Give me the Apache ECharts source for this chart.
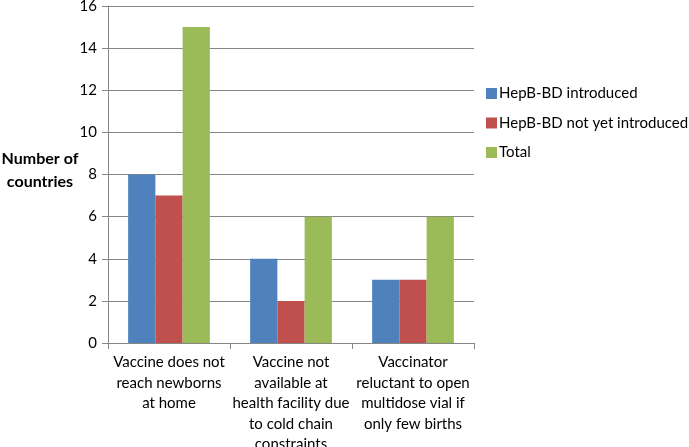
<!DOCTYPE html>
<html><head><meta charset="utf-8">
<script src="https://cdn.jsdelivr.net/npm/echarts@6/dist/echarts.min.js"></script>
<style>html,body{margin:0;padding:0;background:#fff}#c{width:689px;height:447px}</style>
</head><body><div id="c"></div>
<script>
const categories = ["Vaccine does not\nreach newborns\nat home", "Vaccine not\navailable at\nhealth facility due\nto cold chain\nconstraints", "Vaccinator\nreluctant to open\nmultidose vial if\nonly few births"];
const seriesNames = ["HepB-BD introduced", "HepB-BD not yet introduced", "Total"];
const introduced = [8, 4, 3];
const notYet = [7, 2, 3];
const total = [15, 6, 6];
const yTicks = [0, 2, 4, 6, 8, 10, 12, 14, 16];
const colors = ["#4F81BD", "#C0504D", "#9BBB59"];
const font = "Lato, 'Open Sans', sans-serif";

const chart = echarts.init(document.getElementById('c'));
chart.setOption({
  animation: false,
  textStyle: {fontFamily: font},
  grid: {left: 108, top: 6, width: 366, height: 337, containLabel: false, outerBoundsMode: 'none'},
  legend: {
    orient: 'vertical', left: 481, top: 81, itemGap: 14.5, padding: 5,
    itemWidth: 11, itemHeight: 11, icon: 'rect',
    textStyle: {fontSize: 15, color: '#000', fontFamily: font, padding: [0,0,0,-3]},
    data: seriesNames
  },
  graphic: [{
    type: 'text', x: 40, y: 147,
    style: {text: 'Number of\ncountries', font: 'bold 16px ' + font, fill: '#000', textAlign: 'center', lineHeight: 23}
  }],
  xAxis: {
    type: 'category', data: categories,
    axisLine: {lineStyle: {color: '#868686'}},
    axisTick: {show: true, length: 6, lineStyle: {color: '#868686'}},
    axisLabel: {color: '#000', fontSize: 15, lineHeight: 20.5, margin: 9, interval: 0, fontFamily: font}
  },
  yAxis: {
    type: 'value', min: yTicks[0], max: yTicks[yTicks.length-1], interval: 2,
    axisLine: {show: true, lineStyle: {color: '#868686'}},
    axisTick: {show: true, length: 6, lineStyle: {color: '#868686'}},
    splitLine: {lineStyle: {color: '#868686'}},
    axisLabel: {color: '#000', fontSize: 15, margin: 11, fontFamily: font}
  },
  series: [
    {name: seriesNames[0], type: 'bar', data: introduced, itemStyle: {color: colors[0]}, barGap: '0%', barCategoryGap: '33%'},
    {name: seriesNames[1], type: 'bar', data: notYet, itemStyle: {color: colors[1]}},
    {name: seriesNames[2], type: 'bar', data: total, itemStyle: {color: colors[2]}}
  ]
});
</script></body></html>
